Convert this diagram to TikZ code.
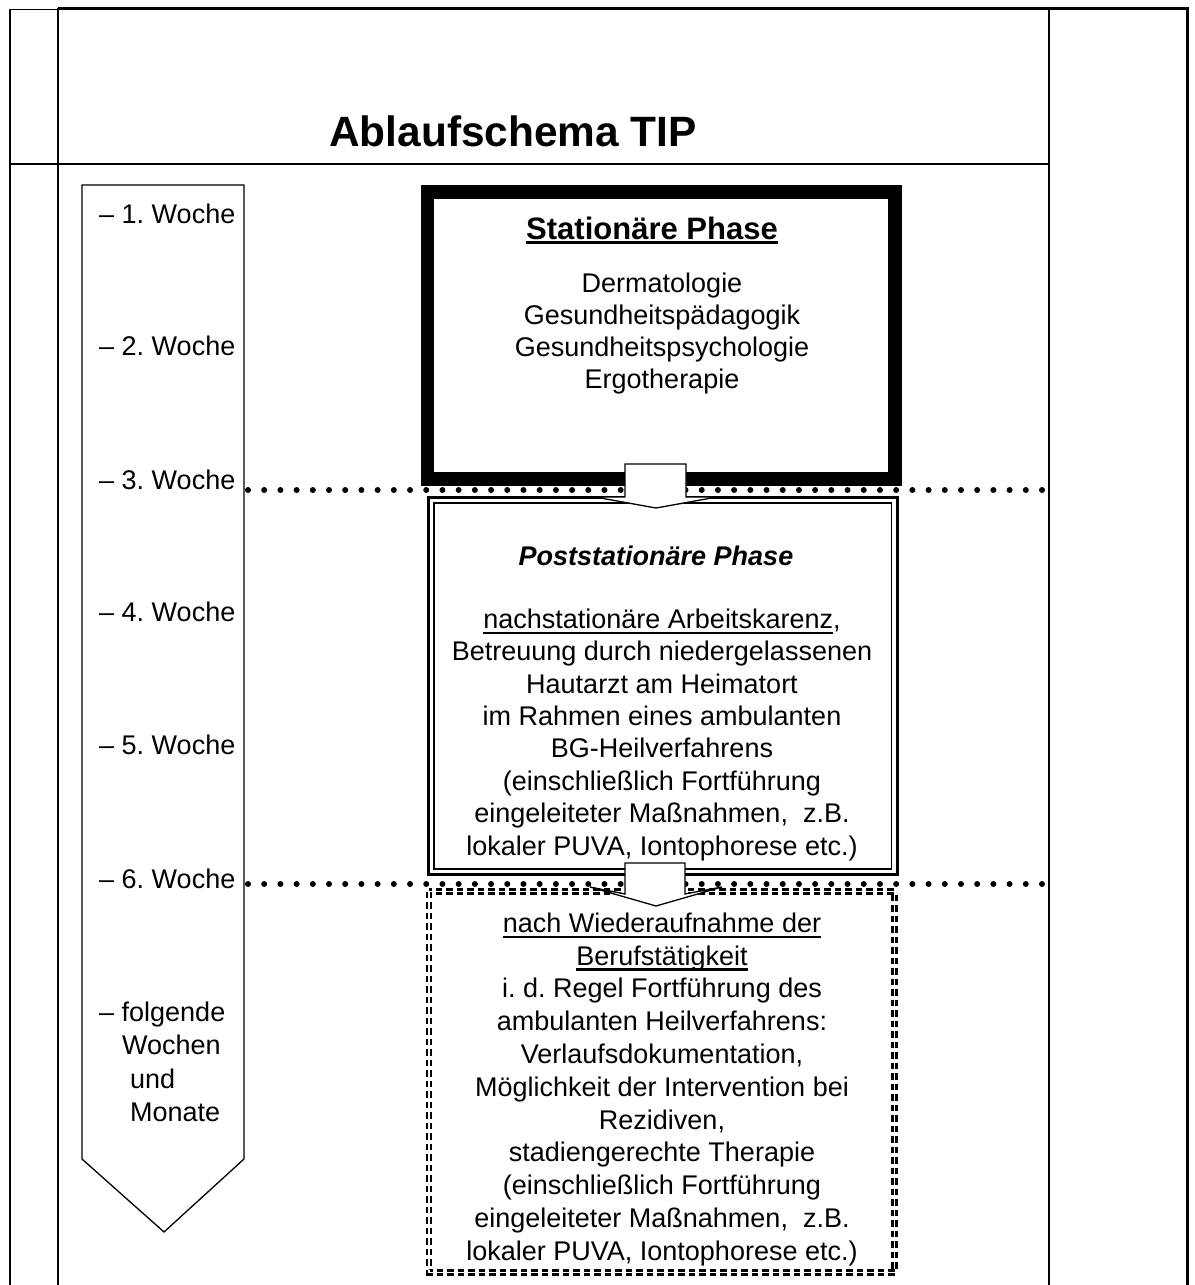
\documentclass[tikz,border=0pt]{standalone}
\usepackage{fontspec}
\setmainfont{Liberation Sans}
\frenchspacing
\newsavebox\ulbox
\newcommand\myul[3]{\sbox\ulbox{#1}\rlap{\rule[#2]{\wd\ulbox}{#3}}\usebox\ulbox}
\newcommand\tstrut{\rule{0pt}{25pt}}
\tikzset{
  tbl/.style={line width=1.7pt},
  tblthick/.style={line width=2.7pt},
  txt/.style={inner sep=0pt, align=center, font=\fontsize{27}{32.4}\selectfont},
  weeklbl/.style={inner sep=0pt, anchor=base west, font=\fontsize{27}{32.4}\selectfont},
  weekarrow/.style={line width=1.3pt},
  statbox/.style={line width=13.5pt},
  dotline/.style={line width=6pt, line cap=round, dash pattern=on 0pt off 16.204pt},
  blockarrow/.style={line width=1.3pt, fill=white},
  dashbox/.style={line width=2.2pt, double=white, double distance=1.8pt, dash pattern=on 6.5pt off 4pt}
}
\begin{document}
\begin{tikzpicture}[x=1pt,y=-1pt,line join=miter]
\useasboundingbox (0,0) rectangle (1194,1285);
% table frame
\draw[tbl] (10,9.5) -- (10,1285);
\draw[tbl] (58,8) -- (58,1285);
\draw[tbl] (1049,8) -- (1049,1285);
\draw[tblthick] (1187.5,7.2) -- (1187.5,1285);
\draw[tbl] (9.2,9.5) -- (58,9.5);
\draw[tblthick] (58,8.5) -- (1188.8,8.5);
\draw[tbl] (9.2,164) -- (1049,164);
% title
\node[inner sep=0pt, anchor=base, font=\fontsize{42.4}{50}\selectfont\bfseries] (title) at (513,146) {Ablaufschema TIP};
% week arrow
\draw[weekarrow] (82,185) -- (244,185) -- (244,1159) -- (164,1232) -- (82,1159) -- cycle;
\node[weeklbl] (w1) at (99,223) {– 1. Woche};
\node[weeklbl] (w2) at (99,355) {– 2. Woche};
\node[weeklbl] (w3) at (99,489) {– 3. Woche};
\node[weeklbl] (w4) at (99,621) {– 4. Woche};
\node[weeklbl] (w5) at (99,754) {– 5. Woche};
\node[weeklbl] (w6) at (99,888) {– 6. Woche};
\node[weeklbl] (w7) at (99,1021) {– folgende};
\node[weeklbl] (w8) at (122,1054) {Wochen};
\node[weeklbl] (w9) at (130,1088) {und};
\node[weeklbl] (w10) at (130,1121) {Monate};
% stationary box
\draw[statbox] (427.5,192) rectangle (895,479);
\node[inner sep=0pt, anchor=base, font=\fontsize{31}{36}\selectfont\bfseries] (stath) at (652,239) {\myul{Stationäre Phase}{-5pt}{3.5pt}};
\node[txt, anchor=north, font=\fontsize{27}{32}\selectfont] (statl) at (662,267) {\tstrut Dermatologie\\ Gesundheitspädagogik\\ Gesundheitspsychologie\\ Ergotherapie};
% post-stationary box
\draw[line width=3pt] (428.5,497.5) rectangle (897,874.5);
\draw[line width=1.8pt] (434,503) rectangle (891.5,869);
\node[inner sep=0pt, anchor=base, font=\fontsize{27}{32}\selectfont\bfseries\itshape] (posth) at (656,565) {Poststationäre Phase};
\node[txt, anchor=north] (postt) at (662,603) {\tstrut\myul{nachstationäre Arbeitskarenz}{-5.5pt}{2.2pt},\\ Betreuung durch niedergelassenen\\ Hautarzt am Heimatort\\ im Rahmen eines ambulanten\\ BG-Heilverfahrens\\ (einschließlich Fortführung\\ eingeleiteter Maßnahmen,\ \ z.B.\\ lokaler PUVA, Iontophorese etc.)};
% follow-up box
\draw[dashbox] (429,891.5) rectangle (894.5,1272.5);
\node[txt, anchor=north, font=\fontsize{27}{32.8}\selectfont] (follt) at (662,907) {\tstrut\myul{nach Wiederaufnahme der}{-5.5pt}{2.2pt}\\ \myul{Berufstätigkeit}{-5.5pt}{2.2pt}\\ i. d. Regel Fortführung des\\ ambulanten Heilverfahrens:\\ Verlaufsdokumentation,\\ Möglichkeit der Intervention bei\\ Rezidiven,\\ stadiengerechte Therapie\\ (einschließlich Fortführung\\ eingeleiteter Maßnahmen,\ \ z.B.\\ lokaler PUVA, Iontophorese etc.)};
% dotted week lines
\coordinate (d1a) at (248,490);
\coordinate (d1b) at (1042,490);
\coordinate (d2a) at (248,884);
\coordinate (d2b) at (1042,884);
\draw[dotline] (d1a) -- (d1b);
\draw[dotline] (d2a) -- (d2b);
% block arrows
\draw[blockarrow] (625,464) -- (686,464) -- (686,497) -- (717,497) -- (656,508) -- (595,497) -- (625,497) -- cycle;
\draw[blockarrow] (625,863) -- (685,863) -- (685,894) -- (722,887) -- (656,906) -- (590,887) -- (625,894) -- cycle;
\end{tikzpicture}
\end{document}
